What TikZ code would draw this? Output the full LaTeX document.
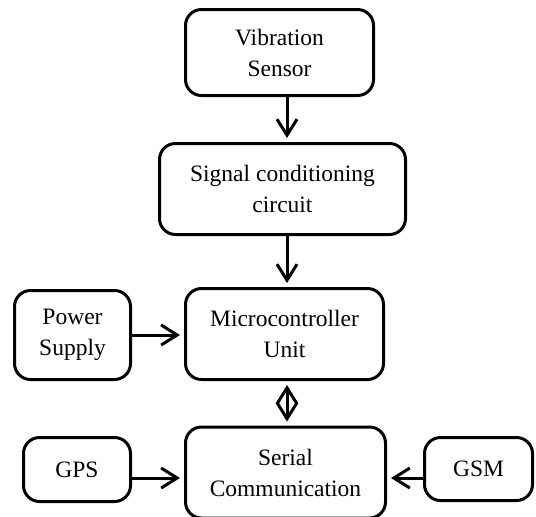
\documentclass[tikz,border=0pt]{standalone}
\usepackage{fontspec}
\setmainfont{Liberation Serif}
\usetikzlibrary{arrows.meta}
\tikzset{
  block/.style={draw, line width=1.5pt, rounded corners=8pt, align=center, inner sep=0pt,
    font=\fontsize{11.75}{15.5}\selectfont},
  link/.style={line width=1.5pt, shorten >=2pt, -{Straight Barb[length=8pt,width=10pt]}},
  duplex/.style={line width=1.5pt, shorten >=2pt, shorten <=2pt,
    {Straight Barb[length=8pt,width=10pt]}-{Straight Barb[length=8pt,width=10pt]}},
}
\begin{document}
\begin{tikzpicture}[x=0.5pt, y=-0.5pt]
\useasboundingbox (0,0) rectangle (536,516);
\coordinate (axis) at (287,0);
\node[block, minimum width=94pt, minimum height=43pt] (vib) at (279.5,52.5) {Vibration\\Sensor};
\node[block, minimum width=123pt, minimum height=45.5pt] (sig) at (282.5,189) {Signal conditioning\\circuit};
\node[block, minimum width=99pt, minimum height=45.5pt] (mcu) at (284.5,334) {Microcontroller\\Unit};
\node[block, minimum width=58pt, minimum height=44.5pt] (pwr) at (72.5,335) {Power\\Supply};
\node[block, minimum width=100pt, minimum height=45.5pt] (ser) at (285.5,472.5) {Serial\\Communication};
\node[block, minimum width=53.5pt, minimum height=32pt] (gps) at (77,469.5) {GPS};
\node[block, minimum width=54pt, minimum height=31.5pt] (gsm) at (478.5,469) {GSM};
\draw[link] (vib.south -| axis) -- (sig.north -| axis);
\draw[link] (sig.south -| axis) -- (mcu.north -| axis);
\draw[link] (pwr.east) -- (pwr.east -| mcu.west);
\draw[duplex] (mcu.south -| axis) -- (ser.north -| axis);
\draw[link] ([yshift=-4.25pt]gps.east) -- ([yshift=-4.25pt]gps.east -| ser.west);
\draw[link] ([yshift=-4.5pt]gsm.west) -- ([yshift=-4.5pt]gsm.west -| ser.east);
\end{tikzpicture}
\end{document}
